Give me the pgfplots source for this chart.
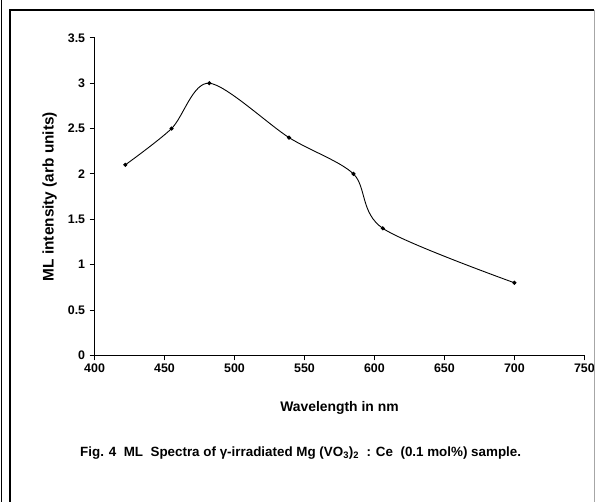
\documentclass[border=0pt]{standalone}
\usepackage{fontspec}
\setmainfont{Liberation Sans}
\usepackage{pgfplots}
\pgfplotsset{compat=1.18}
\begin{document}
\begin{tikzpicture}
\begin{axis}[
  name=ax,
  scale only axis,
  width=492bp, height=319bp,
  xmin=400, xmax=750, ymin=0, ymax=3.5,
  axis x line*=bottom, axis y line*=left,
  axis line style={line width=1.2bp},
  xtick={400,450,...,750},
  ytick={0,0.5,...,3.5},
  tick align=outside,
  major tick length=5bp,
  tick style={line width=1bp,black},
  /pgf/number format/assume math mode=true,
  ticklabel style={font=\bfseries\fontsize{12.5}{14}\selectfont},
  yticklabel style={xshift=-1bp},
  xlabel={Wavelength in nm},
  ylabel={ML intensity (arb units)},
  every axis x label/.style={at={(axis description cs:0.5,-0.165)}, anchor=center, font=\bfseries\fontsize{14}{16}\selectfont},
  every axis y label/.style={at={(axis description cs:-0.0915,0.5)}, anchor=center, rotate=90, font=\bfseries\fontsize{15.5}{17}\selectfont},
  clip=false,
]
\addplot[black, line width=0.9bp, smooth, tension=0.5, mark=*, mark size=1.6bp]
  coordinates {(422,2.1) (455,2.5) (482,3.0) (539,2.4) (585,2.0) (606,1.4) (700,0.8)};
\end{axis}
\begin{scope}[x=1bp,y=1bp,shift={(ax.south west)},shift={(-95,-147)}]
\useasboundingbox (0,0) rectangle (598,504);
\draw[line width=1.2bp] (1.5,0) -- (1.5,504);
\draw[line width=1.8bp] (10,0) -- (10,494) -- (597,494);
\draw[gray!70,line width=1bp] (597,494) -- (597,0);
\node[font=\bfseries\fontsize{13.5}{15}\selectfont] at (302,49)
  {Fig. 4\ \ ML\ \ Spectra of γ-irradiated Mg (VO\textsubscript{3})\textsubscript{2}\ \ : Ce\ \ (0.1 mol\%) sample.};
\end{scope}
\end{tikzpicture}
\end{document}
